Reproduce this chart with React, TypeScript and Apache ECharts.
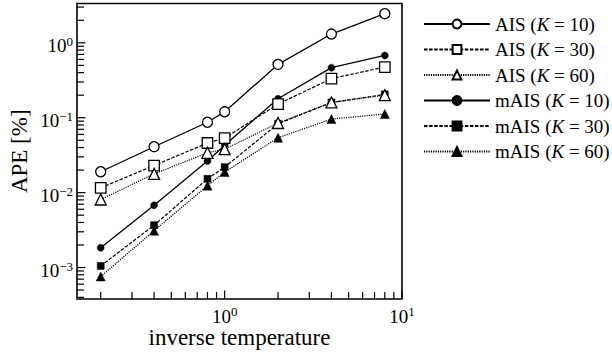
import React, { useEffect, useRef } from "react";
import * as echarts from "echarts";

const X_VALUES = [0.2, 0.4, 0.8, 1, 2, 4, 8];
const AIS_K10 = [0.019, 0.041, 0.087, 0.12, 0.515, 1.31, 2.45];
const AIS_K30 = [0.0116, 0.023, 0.046, 0.0535, 0.152, 0.333, 0.474];
const AIS_K60 = [0.0081, 0.0178, 0.034, 0.038, 0.085, 0.16, 0.2];
const MAIS_K10 = [0.00184, 0.0068, 0.0265, 0.043, 0.179, 0.466, 0.678];
const MAIS_K30 = [0.00105, 0.00367, 0.0153, 0.0219, 0.083, 0.16, 0.205];
const MAIS_K60 = [0.00076, 0.0031, 0.0124, 0.0188, 0.054, 0.096, 0.112];

const SERIES_NAMES = [
  "AIS (K = 10)",
  "AIS (K = 30)",
  "AIS (K = 60)",
  "mAIS (K = 10)",
  "mAIS (K = 30)",
  "mAIS (K = 60)",
];

const X_MIN = 0.147;
const X_MAX = 10;
const Y_MIN = 3.8e-4;
const Y_MAX = 3.35;

const X_MAJOR = [1, 10];
const X_MAJOR_LABELS = ["0", "1"];
const X_MINOR = [0.2, 0.3, 0.4, 0.5, 0.6, 0.7, 0.8, 0.9, 2, 3, 4, 5, 6, 7, 8, 9];
const Y_MAJOR = [1e-3, 1e-2, 1e-1, 1];
const Y_MAJOR_LABELS = ["\u22123", "\u22122", "\u22121", "0"];
const Y_MINOR = [
  4e-4, 5e-4, 6e-4, 7e-4, 8e-4, 9e-4,
  2e-3, 3e-3, 4e-3, 5e-3, 6e-3, 7e-3, 8e-3, 9e-3,
  2e-2, 3e-2, 4e-2, 5e-2, 6e-2, 7e-2, 8e-2, 9e-2,
  0.2, 0.3, 0.4, 0.5, 0.6, 0.7, 0.8, 0.9,
  2, 3,
];

const FONT = "'Liberation Serif', 'Times New Roman', serif";

export default function App() {
  const ref = useRef<HTMLDivElement>(null);

  useEffect(() => {
    if (!ref.current) return;
    const chart = echarts.init(ref.current, null, { renderer: "svg" });

    const pair = (ys: number[]) => X_VALUES.map((x, i) => [x, ys[i]]);
    const solid = { type: "solid" as any, width: 1.3, color: "#000" };
    const dashed = { type: [3.5, 1.6] as any, width: 1.2, color: "#000" };
    const dotted = { type: [1.2, 1.1] as any, width: 1.2, color: "#000" };
    const openStyle = { color: "#fff", borderColor: "#000", borderWidth: 1.3 };
    const filledStyle = { color: "#000", borderColor: "#000", borderWidth: 0.5 };

    const mk = (name: string, ys: number[], symbol: string, size: number, line: any, item: any, z: number) => ({
      name,
      type: "line",
      data: pair(ys),
      symbol,
      symbolSize: size,
      showAllSymbol: true,
      lineStyle: line,
      itemStyle: item,
      z,
      emphasis: { disabled: true },
    });

    const tickLabelRich = {
      b: { fontSize: 19, fontFamily: FONT, fill: "#000", lineHeight: 22, verticalAlign: "middle" },
      s: { fontSize: 13, fontFamily: FONT, fill: "#000", lineHeight: 12, verticalAlign: "top" },
    };

    const option: any = {
      animation: false,
      backgroundColor: "#fff",
      textStyle: { fontFamily: FONT },
      grid: {
        left: 71.5,
        top: 3.5,
        width: 330.5,
        height: 297,
        show: true,
        borderColor: "#000",
        borderWidth: 1.6,
        containLabel: false,
      },
      xAxis: {
        type: "log",
        logBase: 10,
        min: X_MIN,
        max: X_MAX,
        axisLine: { show: false },
        axisTick: { show: false },
        axisLabel: { show: false },
        splitLine: { show: false },
        minorTick: { show: false },
        name: "inverse temperature",
        nameLocation: "middle",
        nameGap: 27,
        nameTextStyle: { fontSize: 23, fontFamily: FONT, color: "#000" },
      },
      yAxis: {
        type: "log",
        logBase: 10,
        min: Y_MIN,
        max: Y_MAX,
        axisLine: { show: false },
        axisTick: { show: false },
        axisLabel: { show: false },
        splitLine: { show: false },
        minorTick: { show: false },
        name: "APE [%]",
        nameLocation: "middle",
        nameGap: 46,
        nameRotate: 90,
        nameTextStyle: { fontSize: 23, fontFamily: FONT, color: "#000" },
      },
      legend: {
        show: true,
        orient: "vertical",
        left: 418,
        top: 9,
        itemWidth: 66,
        itemHeight: 11,
        itemGap: 5.5,
        data: SERIES_NAMES,
        selectedMode: false,
        formatter: (name: string) => name.replace("K", "{i|K}"),
        textStyle: {
          fontSize: 19,
          fontFamily: FONT,
          color: "#000",
          lineHeight: 20,
          rich: {
            i: { fontSize: 19, fontFamily: FONT, fontStyle: "italic", color: "#000", lineHeight: 20 },
          },
        },
      },
      series: [
        mk(SERIES_NAMES[3], MAIS_K10, "circle", 7, solid, filledStyle, 2),
        mk(SERIES_NAMES[4], MAIS_K30, "rect", 7, dashed, filledStyle, 2),
        mk(SERIES_NAMES[5], MAIS_K60, "triangle", 9, dotted, filledStyle, 2),
        mk(SERIES_NAMES[0], AIS_K10, "circle", 10, solid, openStyle, 3),
        mk(SERIES_NAMES[1], AIS_K30, "rect", 10.5, dashed, openStyle, 3),
        mk(SERIES_NAMES[2], AIS_K60, "triangle", 11, dotted, openStyle, 3),
        {
          type: "custom",
          coordinateSystem: "cartesian2d",
          data: [[1, 1]],
          clip: false,
          silent: true,
          z: 6,
          renderItem: (params: any, api: any) => {
            if (params.dataIndex !== 0) return null;
            const origin = api.coord([X_MIN, Y_MIN]);
            const left = origin[0];
            const bottom = origin[1];
            const children: any[] = [];
            const tick = (x1: number, y1: number, x2: number, y2: number) =>
              children.push({
                type: "line",
                shape: { x1, y1, x2, y2 },
                style: { stroke: "#000", lineWidth: 1.2 },
              });
            X_MINOR.forEach((v) => {
              const x = api.coord([v, Y_MIN])[0];
              tick(x, bottom, x, bottom - 7);
            });
            X_MAJOR.forEach((v, i) => {
              const x = api.coord([v, Y_MIN])[0];
              tick(x, bottom, x, bottom - 8.5);
              children.push({
                type: "text",
                x,
                y: bottom + 6,
                style: {
                  text: "{b|10}{s|" + X_MAJOR_LABELS[i] + "}",
                  rich: tickLabelRich,
                  align: "center",
                  verticalAlign: "top",
                  fill: "#000",
                },
              });
            });
            Y_MINOR.forEach((v) => {
              const y = api.coord([X_MIN, v])[1];
              tick(left, y, left + 7, y);
            });
            Y_MAJOR.forEach((v, i) => {
              const y = api.coord([X_MIN, v])[1];
              tick(left, y, left + 8.5, y);
              children.push({
                type: "text",
                x: left - 4,
                y: y + 3,
                style: {
                  text: "{b|10}{s|" + Y_MAJOR_LABELS[i] + "}",
                  rich: tickLabelRich,
                  align: "right",
                  verticalAlign: "middle",
                  fill: "#000",
                },
              });
            });
            return { type: "group", children };
          },
        },
      ],
    };

    chart.setOption(option);
    return () => chart.dispose();
  }, []);

  return (
    <div
      ref={ref}
      style={{ position: "fixed", left: 0, top: 0, width: 612, height: 354, background: "#fff" }}
    />
  );
}
